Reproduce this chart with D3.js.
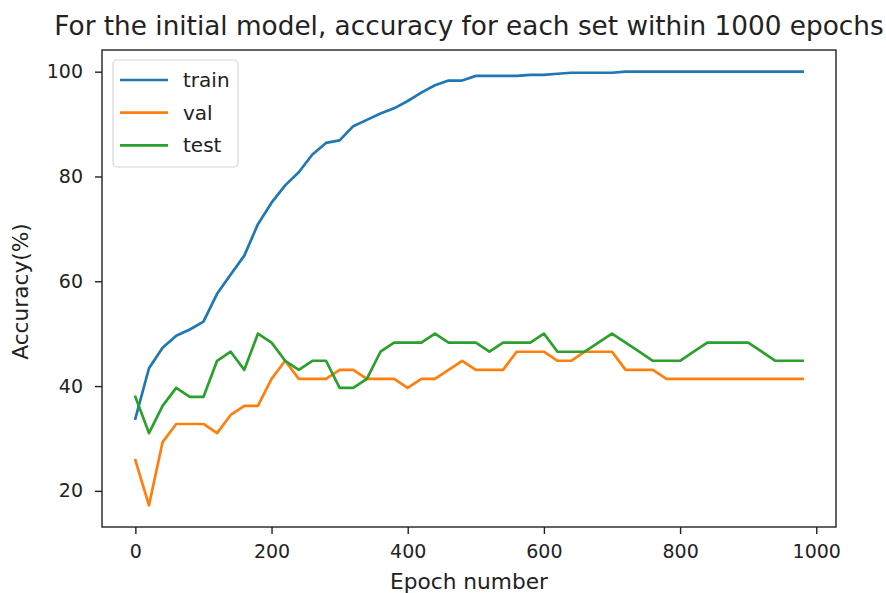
<!DOCTYPE html>
<html>
<head>
<meta charset="utf-8" />
<title>accuracy per set</title>
<script src="https://d3js.org/d3.v7.min.js"></script>
<style>
body { margin: 0; background: #fff; }
text { font-family: "DejaVu Sans", sans-serif; fill: #222; }
.axis path, .axis line { stroke: #222; stroke-width: 1.4; }
.axis text { font-size: 19px; }
</style>
</head>
<body>
<div id="viz"></div>
<script>

// data, one point every 20 epochs
var epochs = [0, 20, 40, 60, 80, 100, 120, 140, 160, 180,
  200, 220, 240, 260, 280, 300, 320, 340, 360, 380,
  400, 420, 440, 460, 480, 500, 520, 540, 560, 580,
  600, 620, 640, 660, 680, 700, 720, 740, 760, 780,
  800, 820, 840, 860, 880, 900, 920, 940, 960, 980];

var train = [33.8, 43.4, 47.3, 49.6, 50.8, 52.3, 57.6, 61.3, 64.9, 70.9,
  75.0, 78.3, 80.8, 84.2, 86.4, 86.9, 89.6, 90.8, 92.0, 93.0,
  94.4, 96.0, 97.4, 98.3, 98.3, 99.2, 99.2, 99.2, 99.2, 99.4,
  99.4, 99.6, 99.8, 99.8, 99.8, 99.8, 100, 100, 100, 100,
  100, 100, 100, 100, 100, 100, 100, 100, 100, 100];

var val = [25.86, 17.24, 29.31, 32.76, 32.76, 32.76, 31.03, 34.48, 36.21, 36.21,
  41.38, 44.83, 41.38, 41.38, 41.38, 43.10, 43.10, 41.38, 41.38, 41.38,
  39.66, 41.38, 41.38, 43.10, 44.83, 43.10, 43.10, 43.10, 46.55, 46.55,
  46.55, 44.83, 44.83, 46.55, 46.55, 46.55, 43.10, 43.10, 43.10, 41.38,
  41.38, 41.38, 41.38, 41.38, 41.38, 41.38, 41.38, 41.38, 41.38, 41.38];

var test = [37.93, 31.03, 36.21, 39.66, 37.93, 37.93, 44.83, 46.55, 43.10, 50.00,
  48.28, 44.83, 43.10, 44.83, 44.83, 39.66, 39.66, 41.38, 46.55, 48.28,
  48.28, 48.28, 50.00, 48.28, 48.28, 48.28, 46.55, 48.28, 48.28, 48.28,
  50.00, 46.55, 46.55, 46.55, 48.28, 50.00, 48.28, 46.55, 44.83, 44.83,
  44.83, 46.55, 48.28, 48.28, 48.28, 48.28, 46.55, 44.83, 44.83, 44.83];

var seriesNames = ["train", "val", "test"];
var seriesColors = ["#1f77b4", "#ff7f0e", "#2ca02c"];
var xTicks = [0, 200, 400, 600, 800, 1000];
var yTicks = [20, 40, 60, 80, 100];

var W = 886, H = 593;
var pLeft = 102, pRight = 836, pTop = 50, pBottom = 527;

var svg = d3.select("#viz").append("svg")
    .attr("width", W)
    .attr("height", H);

// matplotlib style 5% padding around the data
var xExt = d3.extent(epochs),
    yExt = d3.extent(train.concat(val, test));
var xPad = (xExt[1] - xExt[0]) * 0.05,
    yPad = (yExt[1] - yExt[0]) * 0.05;

var x = d3.scaleLinear().domain([xExt[0] - xPad, xExt[1] + xPad]).range([pLeft, pRight]);
var y = d3.scaleLinear().domain([yExt[0] - yPad, yExt[1] + yPad]).range([pBottom, pTop]);

var all = [train, val, test];

var line = d3.line()
    .x(function(d, i) { return x(epochs[i]); })
    .y(function(d) { return y(d); });

svg.append("g").selectAll("path")
    .data(all)
    .enter().append("path")
      .attr("d", line)
      .attr("fill", "none")
      .attr("stroke", function(d, i) { return seriesColors[i]; })
      .attr("stroke-width", 2.7)
      .attr("stroke-linejoin", "round")
      .attr("stroke-linecap", "square");

// axes
svg.append("g")
    .attr("class", "axis")
    .attr("transform", "translate(0," + pBottom + ")")
    .call(d3.axisBottom(x).tickValues(xTicks).tickFormat(d3.format("d"))
      .tickSize(7).tickPadding(11).tickSizeOuter(0))
    .call(function(g) { g.select(".domain").remove(); });

svg.append("g")
    .attr("class", "axis")
    .attr("transform", "translate(" + pLeft + ",0)")
    .call(d3.axisLeft(y).tickValues(yTicks).tickFormat(d3.format("d"))
      .tickSize(7).tickPadding(12).tickSizeOuter(0))
    .call(function(g) { g.select(".domain").remove(); });

// frame
svg.append("rect")
    .attr("x", pLeft)
    .attr("y", pTop)
    .attr("width", pRight - pLeft)
    .attr("height", pBottom - pTop)
    .attr("fill", "none")
    .attr("stroke", "#222")
    .attr("stroke-width", 1.4);

// labels
svg.append("text")
    .attr("x", (pLeft + pRight) / 2)
    .attr("y", 35)
    .attr("text-anchor", "middle")
    .style("font-size", "26.3px")
    .text("For the initial model, accuracy for each set within 1000 epochs");

svg.append("text")
    .attr("x", (pLeft + pRight) / 2)
    .attr("y", 589)
    .attr("text-anchor", "middle")
    .style("font-size", "21.7px")
    .text("Epoch number");

svg.append("text")
    .attr("transform", "translate(28," + ((pTop + pBottom) / 2 + 3) + ") rotate(-90)")
    .attr("text-anchor", "middle")
    .style("font-size", "21.7px")
    .text("Accuracy(%)");

// legend
var lg = svg.append("g");
lg.append("rect")
    .attr("x", 113)
    .attr("y", 60)
    .attr("width", 125)
    .attr("height", 107)
    .attr("rx", 4)
    .attr("fill", "#fff")
    .attr("fill-opacity", 0.8)
    .attr("stroke", "#d6d6d6")
    .attr("stroke-width", 1.2);

var items = lg.selectAll("g.item")
    .data(seriesNames)
    .enter().append("g")
      .attr("class", "item")
      .attr("transform", function(d, i) { return "translate(0," + (80 + i * 32.7) + ")"; });

items.append("line")
    .attr("x1", 120)
    .attr("x2", 168)
    .attr("stroke", function(d, i) { return seriesColors[i]; })
    .attr("stroke-width", 2.7);

items.append("text")
    .attr("x", 183)
    .attr("dy", "0.35em")
    .style("font-size", "20px")
    .text(function(d) { return d; });

</script>
</body>
</html>
